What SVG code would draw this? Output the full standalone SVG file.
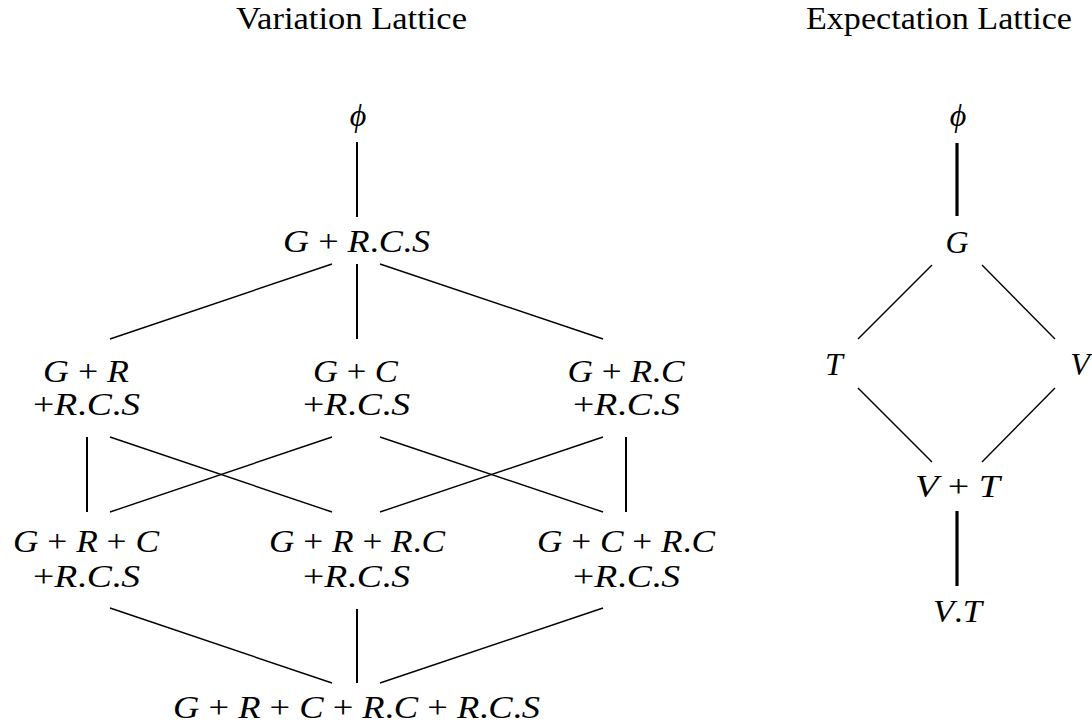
<svg xmlns="http://www.w3.org/2000/svg" width="1092" height="725" viewBox="0 0 1092 725">
<style>
text{font-family:"Liberation Serif","DejaVu Serif",serif;fill:#000;text-anchor:middle;font-size:32px}
.i{font-style:italic}
.t{font-size:32px}
line{stroke:#000;stroke-linecap:butt}
.d{stroke-width:1.4}
.v{stroke-width:2}
.vb{stroke-width:3.2}
</style>
<rect width="1092" height="725" fill="#fff"/>
<text class="t" x="351.5" y="29" textLength="231" lengthAdjust="spacingAndGlyphs">Variation Lattice</text>
<text class="t" x="939" y="29" textLength="266" lengthAdjust="spacingAndGlyphs">Expectation Lattice</text>
<g id="connectors">
<line class="v" x1="357" y1="142" x2="357" y2="217"/>
<line class="d" x1="332" y1="264" x2="110" y2="339"/>
<line class="v" x1="357" y1="264" x2="357" y2="339"/>
<line class="d" x1="380" y1="264" x2="603" y2="339"/>
<line class="v" x1="87" y1="437" x2="87" y2="512"/>
<line class="d" x1="110" y1="437" x2="332" y2="512"/>
<line class="d" x1="332" y1="437" x2="110" y2="512"/>
<line class="d" x1="380" y1="437" x2="603" y2="512"/>
<line class="d" x1="603" y1="437" x2="380" y2="512"/>
<line class="v" x1="626" y1="437" x2="626" y2="512"/>
<line class="d" x1="110" y1="608" x2="332" y2="683"/>
<line class="v" x1="357" y1="609" x2="357" y2="683"/>
<line class="d" x1="603" y1="608" x2="380" y2="683"/>
<line class="vb" x1="957" y1="143" x2="957" y2="216"/>
<line class="d" x1="932" y1="265" x2="858" y2="339"/>
<line class="d" x1="982" y1="265" x2="1055" y2="339"/>
<line class="d" x1="858" y1="388" x2="932" y2="462"/>
<line class="d" x1="1055" y1="388" x2="982" y2="462"/>
<line class="vb" x1="957" y1="511" x2="957" y2="586"/>
</g>
<g id="v-phi"><text x="358" y="126" class="i">ϕ</text></g>
<g id="v-grcs"><text x="356.5" y="252" textLength="147" lengthAdjust="spacingAndGlyphs"><tspan class="i">G</tspan> + <tspan class="i">R</tspan>.<tspan class="i">C</tspan>.<tspan class="i">S</tspan></text></g>
<g id="v-gr">
<text x="86" y="382" textLength="86" lengthAdjust="spacingAndGlyphs"><tspan class="i">G</tspan> + <tspan class="i">R</tspan></text>
<text x="86.5" y="415" textLength="107" lengthAdjust="spacingAndGlyphs">+<tspan class="i">R</tspan>.<tspan class="i">C</tspan>.<tspan class="i">S</tspan></text>
</g>
<g id="v-gc">
<text x="355.5" y="382" textLength="85" lengthAdjust="spacingAndGlyphs"><tspan class="i">G</tspan> + <tspan class="i">C</tspan></text>
<text x="356.5" y="415" textLength="107" lengthAdjust="spacingAndGlyphs">+<tspan class="i">R</tspan>.<tspan class="i">C</tspan>.<tspan class="i">S</tspan></text>
</g>
<g id="v-grc">
<text x="626" y="382" textLength="117" lengthAdjust="spacingAndGlyphs"><tspan class="i">G</tspan> + <tspan class="i">R</tspan>.<tspan class="i">C</tspan></text>
<text x="626.5" y="415" textLength="107" lengthAdjust="spacingAndGlyphs">+<tspan class="i">R</tspan>.<tspan class="i">C</tspan>.<tspan class="i">S</tspan></text>
</g>
<g id="v-grpc">
<text x="86" y="552" textLength="146" lengthAdjust="spacingAndGlyphs"><tspan class="i">G</tspan> + <tspan class="i">R</tspan> + <tspan class="i">C</tspan></text>
<text x="86.5" y="587" textLength="107" lengthAdjust="spacingAndGlyphs">+<tspan class="i">R</tspan>.<tspan class="i">C</tspan>.<tspan class="i">S</tspan></text>
</g>
<g id="v-grprc">
<text x="357" y="552" textLength="176" lengthAdjust="spacingAndGlyphs"><tspan class="i">G</tspan> + <tspan class="i">R</tspan> + <tspan class="i">R</tspan>.<tspan class="i">C</tspan></text>
<text x="356.5" y="587" textLength="107" lengthAdjust="spacingAndGlyphs">+<tspan class="i">R</tspan>.<tspan class="i">C</tspan>.<tspan class="i">S</tspan></text>
</g>
<g id="v-gcprc">
<text x="626" y="552" textLength="178" lengthAdjust="spacingAndGlyphs"><tspan class="i">G</tspan> + <tspan class="i">C</tspan> + <tspan class="i">R</tspan>.<tspan class="i">C</tspan></text>
<text x="626.5" y="587" textLength="107" lengthAdjust="spacingAndGlyphs">+<tspan class="i">R</tspan>.<tspan class="i">C</tspan>.<tspan class="i">S</tspan></text>
</g>
<g id="v-all"><text x="356.5" y="718" textLength="367" lengthAdjust="spacingAndGlyphs"><tspan class="i">G</tspan> + <tspan class="i">R</tspan> + <tspan class="i">C</tspan> + <tspan class="i">R</tspan>.<tspan class="i">C</tspan> + <tspan class="i">R</tspan>.<tspan class="i">C</tspan>.<tspan class="i">S</tspan></text></g>
<g id="e-phi"><text x="958" y="126" class="i">ϕ</text></g>
<g id="e-g"><text x="957" y="253" class="i">G</text></g>
<g id="e-t"><text x="834" y="375" class="i">T</text></g>
<g id="e-v"><text x="1080" y="375" class="i">V</text></g>
<g id="e-vpt"><text x="957.5" y="497" textLength="85" lengthAdjust="spacingAndGlyphs"><tspan class="i">V</tspan> + <tspan class="i">T</tspan></text></g>
<g id="e-vt"><text x="957.5" y="622" textLength="49" lengthAdjust="spacingAndGlyphs"><tspan class="i">V</tspan>.<tspan class="i">T</tspan></text></g>
</svg>
